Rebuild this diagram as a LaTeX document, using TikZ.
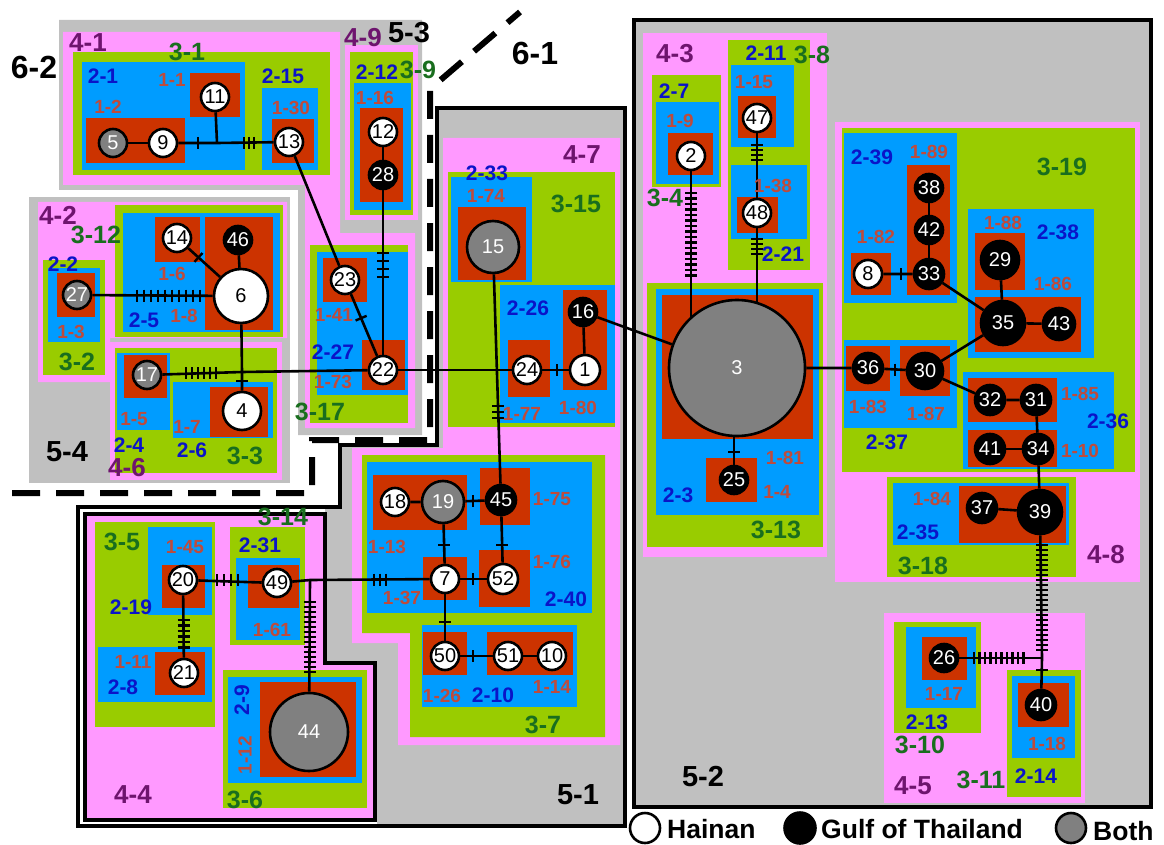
\documentclass[tikz,border=0pt]{standalone}
\usepackage{fontspec}
\setmainfont{Liberation Sans}
\usetikzlibrary{decorations.markings}
\pgfdeclarelayer{bg}
\pgfdeclarelayer{edges}
\pgfsetlayers{bg,edges,main}
\definecolor{cgray}{RGB}{192,192,192}
\definecolor{cpink}{RGB}{255,153,255}
\definecolor{cgreen}{RGB}{153,204,0}
\definecolor{cblue}{RGB}{0,156,255}
\definecolor{cred}{RGB}{204,51,0}
\definecolor{cnode}{RGB}{128,128,128}
\definecolor{ca}{RGB}{190,75,60}
\definecolor{cb}{RGB}{10,20,200}
\definecolor{cc}{RGB}{25,110,30}
\definecolor{cd}{RGB}{110,20,110}
\tikzset{
 edge/.style={line width=2.6pt, black},
 tickline/.style={line width=2.4pt, black},
 nodebase/.style={circle, draw=black, line width=2.6pt, inner sep=0pt, font=\fontsize{20}{20}\selectfont},
 wn/.style={nodebase, fill=white, text=black},
 bn/.style={nodebase, fill=black, text=white},
 gn/.style={nodebase, fill=cnode, text=white},
 la/.style={inner sep=0pt, text=ca, font=\bfseries\fontsize{19}{19}\selectfont},
 lb/.style={inner sep=0pt, text=cb, font=\bfseries\fontsize{21}{21}\selectfont},
 lc/.style={inner sep=0pt, text=cc, font=\bfseries\fontsize{25}{25}\selectfont},
 ld/.style={inner sep=0pt, text=cd, font=\bfseries\fontsize{26}{26}\selectfont},
 le/.style={inner sep=0pt, text=black, font=\bfseries\fontsize{29}{29}\selectfont},
 lf/.style={inner sep=0pt, text=black, font=\bfseries\fontsize{32}{32}\selectfont},
 lg/.style={inner sep=0pt, text=black, anchor=west, font=\bfseries\fontsize{26.5}{26.5}\selectfont},
 tickat/.style={postaction={decorate,decoration={markings,mark=at position #1 with {\draw[tickline] (0pt,-6pt) -- (0pt,6pt);}}}},
 bord/.style={draw=black, line width=4pt},
}
\newcommand\bx[5]{\fill[#1] (#2,#3) rectangle (#4,#5);}
\newcommand\nd[5]{\node[#5, minimum size=#4*2pt-2pt] (n#1) at (#2,#3) {#1};}
\newcommand\vtk[2]{\draw[tickline] (#1,#2-6) -- (#1,#2+6);}
\newcommand\htk[2]{\draw[tickline] (#1-6,#2) -- (#1+6,#2);}
\newcommand\lbl[4]{\node[#1] (t#4) at (#2,#3) {#4};}
\begin{document}
\begin{tikzpicture}[x=1pt,y=-1pt]
\useasboundingbox (0,0) rectangle (1164,845);
\begin{pgfonlayer}{bg}
\fill[white] (0,0) rectangle (1164,845);
% level 5 regions
\fill[cgray] (59,20) -- (422,20) -- (422,435) -- (298,435) -- (298,190) -- (59,190) -- cycle;
\fill[cgray] (29,197) rectangle (290,483);
\filldraw[fill=cgray, bord] (634,20) rectangle (1151,807);
\filldraw[fill=cgray, bord] (437,108) -- (625,108) -- (625,826) -- (78,826) -- (78,507) -- (340,507) -- (340,445) -- (437,445) -- cycle;
\fill[white] (78,507) rectangle (325,826);
\fill[white] (325,816) rectangle (377,826);
\filldraw[fill=cpink, draw=black, line width=3.5pt] (85,514) -- (325,514) -- (325,663) -- (375,663) -- (375,820) -- (85,820) -- cycle;
\draw[bord] (437,108) -- (625,108) -- (625,826) -- (78,826) -- (78,507) -- (340,507) -- (340,445) -- (437,445) -- cycle;
\draw[black, line width=6pt, dash pattern=on 28pt off 16pt] (12,493) -- (312,493) -- (312,440) -- (430,440) -- (430,89) -- (520,12);
% level 4 (pink)
\fill[cpink] (63,32) -- (340,32) -- (340,233) -- (415,233) -- (415,428) -- (305,428) -- (305,185) -- (63,185) -- cycle;
\bx{cpink}{345}{45}{418}{220}
\fill[cpink] (38,202) -- (287,202) -- (287,338) -- (110,338) -- (110,382) -- (38,382) -- cycle;
\bx{cpink}{110}{342}{282}{480}
\fill[cpink] (443,138) -- (620,138) -- (620,745) -- (398,745) -- (398,643) -- (352,643) -- (352,448) -- (443,448) -- cycle;
\bx{cpink}{643}{33}{827}{557}
\bx{cpink}{835}{122}{1140}{582}
\bx{cpink}{884}{613}{1085}{803}
% level 3 (green)
\bx{cgreen}{73}{52}{330}{175}
\bx{cgreen}{350}{52}{413}{215}
\bx{cgreen}{310}{245}{408}{423}
\bx{cgreen}{115}{205}{283}{337}
\bx{cgreen}{43}{260}{105}{375}
\bx{cgreen}{115}{348}{277}{473}
\bx{cgreen}{448}{172}{615}{427}
\fill[cgreen] (362,455) -- (605,455) -- (605,737) -- (410,737) -- (410,633) -- (362,633) -- cycle;
\bx{cgreen}{95}{522}{215}{727}
\bx{cgreen}{230}{527}{305}{645}
\bx{cgreen}{223}{670}{367}{808}
\bx{cgreen}{652}{75}{721}{187}
\bx{cgreen}{728}{40}{810}{270}
\bx{cgreen}{647}{283}{823}{547}
\bx{cgreen}{842}{128}{1135}{472}
\bx{cgreen}{887}{477}{1076}{577}
\bx{cgreen}{894}{622}{981}{733}
\bx{cgreen}{1007}{670}{1081}{797}
% level 2 (blue)
\bx{cblue}{82}{62}{245}{170}
\bx{cblue}{262}{88}{318}{170}
\bx{cblue}{354}{83}{411}{210}
\bx{cblue}{317}{252}{408}{395}
\bx{cblue}{123}{213}{280}{332}
\bx{cblue}{48}{268}{100}{342}
\bx{cblue}{117}{353}{170}{430}
\bx{cblue}{173}{382}{273}{438}
\bx{cblue}{451}{177}{532}{282}
\bx{cblue}{500}{285}{615}{423}
\bx{cblue}{367}{462}{592}{613}
\bx{cblue}{422}{625}{577}{707}
\bx{cblue}{148}{527}{212}{615}
\bx{cblue}{98}{647}{212}{702}
\bx{cblue}{236}{558}{300}{640}
\bx{cblue}{228}{677}{362}{783}
\bx{cblue}{656}{102}{719}{184}
\bx{cblue}{731}{65}{794}{147}
\bx{cblue}{731}{165}{807}{239}
\bx{cblue}{656}{289}{819}{515}
\bx{cblue}{844}{133}{957}{303}
\bx{cblue}{968}{209}{1094}{358}
\bx{cblue}{844}{340}{957}{428}
\bx{cblue}{963}{372}{1114}{469}
\bx{cblue}{893}{483}{1069}{545}
\bx{cblue}{906}{627}{976}{708}
\bx{cblue}{1012}{676}{1075}{758}
% level 1 (red)
\bx{cred}{190}{73}{240}{117}
\bx{cred}{86}{118}{185}{163}
\bx{cred}{272}{119}{314}{163}
\bx{cred}{360}{108}{403}{202}
\bx{cred}{323}{258}{367}{302}
\bx{cred}{362}{340}{405}{390}
\bx{cred}{155}{217}{200}{262}
\bx{cred}{205}{217}{273}{330}
\bx{cred}{57}{273}{95}{317}
\bx{cred}{124}{355}{167}{398}
\bx{cred}{210}{387}{268}{437}
\bx{cred}{458}{207}{526}{280}
\bx{cred}{563}{290}{607}{390}
\bx{cred}{508}{340}{550}{397}
\bx{cred}{373}{475}{467}{530}
\bx{cred}{480}{468}{530}{525}
\bx{cred}{423}{557}{467}{600}
\bx{cred}{479}{550}{530}{607}
\bx{cred}{423}{632}{467}{675}
\bx{cred}{487}{632}{573}{675}
\bx{cred}{162}{565}{205}{608}
\bx{cred}{155}{652}{205}{695}
\bx{cred}{248}{565}{299}{608}
\bx{cred}{260}{682}{356}{777}
\bx{cred}{668}{133}{713}{175}
\bx{cred}{738}{96}{776}{138}
\bx{cred}{737}{197}{778}{233}
\bx{cred}{662}{295}{813}{439}
\bx{cred}{706}{458}{757}{502}
\bx{cred}{907}{165}{950}{295}
\bx{cred}{851}{253}{891}{295}
\bx{cred}{975}{233}{1025}{290}
\bx{cred}{975}{297}{1081}{352}
\bx{cred}{846}{346}{890}{391}
\bx{cred}{900}{346}{950}{396}
\bx{cred}{968}{378}{1057}{422}
\bx{cred}{968}{430}{1057}{467}
\bx{cred}{959}{486}{1066}{543}
\bx{cred}{922}{637}{967}{680}
\bx{cred}{1018}{683}{1069}{727}
\end{pgfonlayer}
% nodes
\nd{11}{215}{97}{15}{wn}
\nd{5}{113}{143}{15}{gn}
\nd{9}{163}{143}{15}{wn}
\nd{13}{289}{142}{15}{wn}
\nd{12}{383}{132}{15}{wn}
\nd{28}{383}{175}{15}{bn}
\nd{23}{345}{280}{15}{wn}
\nd{22}{383}{370}{15}{wn}
\nd{14}{177}{238}{15}{wn}
\nd{46}{238}{240}{15}{bn}
\nd{6}{241}{296}{28}{wn}
\nd{27}{77}{295}{15}{gn}
\nd{17}{147}{375}{15}{gn}
\nd{4}{242}{411}{20}{wn}
\nd{15}{493}{247}{27}{gn}
\nd{16}{583}{312}{15}{bn}
\nd{1}{585}{370}{16}{wn}
\nd{24}{527}{370}{15}{wn}
\nd{18}{395}{502}{15}{wn}
\nd{19}{443}{502}{22}{gn}
\nd{45}{501}{500}{16}{bn}
\nd{7}{445}{579}{15}{wn}
\nd{52}{503}{579}{16}{wn}
\nd{50}{445}{656}{15}{wn}
\nd{51}{508}{656}{15}{wn}
\nd{10}{552}{656}{15}{wn}
\nd{20}{183}{580}{15}{wn}
\nd{21}{184}{673}{15}{wn}
\nd{49}{277}{583}{15}{wn}
\nd{44}{309}{732}{40}{gn}
\nd{2}{691}{156}{15}{wn}
\nd{47}{757}{118}{15}{wn}
\nd{48}{757}{213}{15}{wn}
\nd{3}{737}{368}{69}{gn}
\nd{25}{734}{480}{15}{bn}
\nd{38}{929}{188}{15}{bn}
\nd{42}{929}{230}{15}{bn}
\nd{33}{929}{274}{16}{bn}
\nd{8}{868}{274}{15}{wn}
\nd{29}{1000}{260}{20}{bn}
\nd{35}{1003}{323}{23}{bn}
\nd{43}{1059}{324}{17}{bn}
\nd{36}{868}{368}{16}{bn}
\nd{30}{925}{371}{19}{bn}
\nd{32}{990}{400}{16}{bn}
\nd{31}{1036}{400}{16}{bn}
\nd{41}{990}{449}{16}{bn}
\nd{34}{1038}{449}{16}{bn}
\nd{37}{982}{508}{16}{bn}
\nd{39}{1040}{512}{23}{bn}
\nd{26}{944}{658}{15}{bn}
\nd{40}{1041}{705}{16}{bn}
\coordinate (Ja) at (217,143);
\coordinate (Jb) at (242,372);
\coordinate (Jc) at (310,580);
\coordinate (Jd) at (1042,658);
% edges
\begin{pgfonlayer}{edges}
\draw[edge] (n9) -- (n5);
\draw[edge] (n9) -- (Ja) -- (n13);
\draw[edge] (Ja) -- (n11);
\draw[edge] (n13) -- (n23);
\draw[edge] (n12) -- (n28) -- (n22);
\draw[edge, tickat=0.39] (n23) -- (n22);
\draw[edge] (n27) -- (n6);
\draw[edge, tickat=0.32] (n14) -- (n6);
\draw[edge] (n46) -- (n6);
\draw[edge] (n6) -- (Jb) -- (n4);
\draw[edge] (n17) -- (Jb) -- (n22);
\draw[edge] (n22) -- (n24) -- (n1);
\draw[edge] (n16) -- (n1);
\draw[edge] (n16) -- (n3);
\draw[edge] (n15) -- (n45);
\draw[edge] (n18) -- (n19) -- (n45);
\draw[edge] (n19) -- (n7);
\draw[edge] (n45) -- (n52);
\draw[edge] (n7) -- (n52);
\draw[edge] (n7) -- (n50) -- (n51) -- (n10);
\draw[edge] (n20) -- (n49) -- (Jc) -- (n7);
\draw[edge] (Jc) -- (n44);
\draw[edge] (n20) -- (n21);
\draw[edge] (n2) -- (n2 |- n3.center);
\draw[edge] (n47) -- (n48) -- (n48 |- n3.center);
\draw[edge] (n25) -- (n25 |- n3.center);
\draw[edge] (n3) -- (n36) -- (n30);
\draw[edge] (n38) -- (n42) -- (n33);
\draw[edge] (n8) -- (n33) -- (n35);
\draw[edge] (n29) -- (n35) -- (n43);
\draw[edge] (n35) -- (n30) -- (n32) -- (n31) -- (n34) -- (n39);
\draw[edge] (n41) -- (n34);
\draw[edge] (n37) -- (n39) -- (Jd) -- (n40);
\draw[edge] (n26) -- (Jd);
% ticks
\vtk{198}{143}
\foreach \q in {244,249,254} {\vtk{\q}{143}}
\foreach \q in {137,144,...,200} {\vtk{\q}{295.5}}
\foreach \q in {186,192,...,216} {\vtk{\q}{373}}
\htk{242}{381}
\foreach \q in {253,261,269,277} {\htk{383}{\q}}
\vtk{557}{370}
\foreach \q in {406,412,418} {\htk{498}{\q}}
\vtk{473}{501}
\htk{444}{545}
\htk{502}{545}
\vtk{473}{579}
\htk{445}{622}
\vtk{473}{656}
\foreach \q in {374,380,386} {\vtk{\q}{579.5}}
\foreach \q in {217,224,231,238} {\vtk{\q}{580}}
\foreach \q in {620,625.5,...,648} {\htk{183.5}{\q}}
\foreach \q in {602,607,...,672} {\htk{310}{\q}}
\foreach \q in {193,198.5,...,277} {\htk{691}{\q}}
\foreach \q in {145,150,155,160} {\htk{757}{\q}}
\foreach \q in {239,244,249,254} {\htk{757}{\q}}
\htk{734}{452}
\vtk{901}{274}
\vtk{895}{369.5}
\foreach \q in {545,550,...,650} {\htk{1042}{\q}}
\foreach \q in {974,979.5,...,1025} {\vtk{\q}{658}}
\htk{1042}{670}
\end{pgfonlayer}
% labels level 1
\lbl{la}{172}{80}{1-1}
\lbl{la}{108}{107}{1-2}
\lbl{la}{291}{108}{1-30}
\lbl{la}{375}{98}{1-16}
\lbl{la}{334}{315}{1-41}
\lbl{la}{333}{382}{1-73}
\lbl{la}{172}{274}{1-6}
\lbl{la}{184}{316}{1-8}
\lbl{la}{71}{332}{1-3}
\lbl{la}{134}{419}{1-5}
\lbl{la}{187}{427}{1-7}
\lbl{la}{486}{196}{1-74}
\lbl{la}{522}{414}{1-77}
\lbl{la}{578}{408}{1-80}
\lbl{la}{552}{499}{1-75}
\lbl{la}{552}{562}{1-76}
\lbl{la}{387}{547}{1-13}
\lbl{la}{402}{598}{1-37}
\lbl{la}{442}{696}{1-26}
\lbl{la}{552}{687}{1-14}
\lbl{la}{185}{547}{1-45}
\lbl{la}{133}{662}{1-11}
\lbl{la}{272}{630}{1-61}
\node[la, rotate=90] (t1-12) at (245,755) {1-12};
\lbl{la}{680}{121}{1-9}
\lbl{la}{754}{82}{1-15}
\lbl{la}{773}{186}{1-38}
\lbl{la}{785}{458}{1-81}
\lbl{la}{777}{492}{1-4}
\lbl{la}{929}{152}{1-89}
\lbl{la}{876}{237}{1-82}
\lbl{la}{1003}{223}{1-88}
\lbl{la}{1053}{284}{1-86}
\lbl{la}{868}{407}{1-83}
\lbl{la}{926}{414}{1-87}
\lbl{la}{1080}{394}{1-85}
\lbl{la}{1080}{451}{1-10}
\lbl{la}{932}{499}{1-84}
\lbl{la}{944}{694}{1-17}
\lbl{la}{1047}{744}{1-18}
% labels level 2
\lbl{lb}{103}{76}{2-1}
\lbl{lb}{283}{76}{2-15}
\lbl{lb}{377}{72}{2-12}
\lbl{lb}{333}{352}{2-27}
\lbl{lb}{144}{320}{2-5}
\lbl{lb}{63}{264}{2-2}
\lbl{lb}{129}{445}{2-4}
\lbl{lb}{192}{450}{2-6}
\lbl{lb}{487}{173}{2-33}
\lbl{lb}{528}{308}{2-26}
\lbl{lb}{566}{599}{2-40}
\lbl{lb}{493}{695}{2-10}
\lbl{lb}{131}{607}{2-19}
\lbl{lb}{123}{687}{2-8}
\lbl{lb}{260}{545}{2-31}
\node[lb, rotate=90] (t2-9) at (242,700) {2-9};
\lbl{lb}{674}{91}{2-7}
\lbl{lb}{766}{53}{2-11}
\lbl{lb}{783}{254}{2-21}
\lbl{lb}{678}{495}{2-3}
\lbl{lb}{872}{157}{2-39}
\lbl{lb}{1058}{232}{2-38}
\lbl{lb}{887}{442}{2-37}
\lbl{lb}{1108}{421}{2-36}
\lbl{lb}{918}{532}{2-35}
\lbl{lb}{927}{722}{2-13}
\lbl{lb}{1036}{776}{2-14}
% labels level 3
\lbl{lc}{187}{52}{3-1}
\lbl{lc}{418}{70}{3-9}
\lbl{lc}{320}{412}{3-17}
\lbl{lc}{96}{235}{3-12}
\lbl{lc}{77}{362}{3-2}
\lbl{lc}{245}{456}{3-3}
\lbl{lc}{576}{204}{3-15}
\lbl{lc}{543}{725}{3-7}
\lbl{lc}{122}{542}{3-5}
\lbl{lc}{283}{517}{3-14}
\lbl{lc}{245}{800}{3-6}
\lbl{lc}{665}{198}{3-4}
\lbl{lc}{812}{55}{3-8}
\lbl{lc}{776}{530}{3-13}
\lbl{lc}{1062}{167}{3-19}
\lbl{lc}{923}{566}{3-18}
\lbl{lc}{920}{745}{3-10}
\lbl{lc}{981}{780}{3-11}
% labels level 4
\lbl{ld}{88}{43}{4-1}
\lbl{ld}{363}{38}{4-9}
\lbl{ld}{58}{215}{4-2}
\lbl{ld}{127}{468}{4-6}
\lbl{ld}{582}{155}{4-7}
\lbl{ld}{133}{795}{4-4}
\lbl{ld}{675}{54}{4-3}
\lbl{ld}{1106}{555}{4-8}
\lbl{ld}{913}{786}{4-5}
% labels level 5 and 6
\lbl{lf}{34}{67}{6-2}
\lbl{lf}{535}{53}{6-1}
\lbl{le}{409}{33}{5-3}
\lbl{le}{67}{452}{5-4}
\lbl{le}{578}{795}{5-1}
\lbl{le}{703}{777}{5-2}
% legend
\node[wn, minimum size=30pt] (lgH) at (645,828) {};
\node[lg] (tH) at (667,829) {Hainan};
\node[bn, minimum size=31pt] (lgG) at (800,828) {};
\node[lg] (tG) at (821,829) {Gulf of Thailand};
\node[gn, minimum size=30pt] (lgB) at (1071,828) {};
\node[lg] (tB) at (1093,831) {Both};
\end{tikzpicture}
\end{document}
